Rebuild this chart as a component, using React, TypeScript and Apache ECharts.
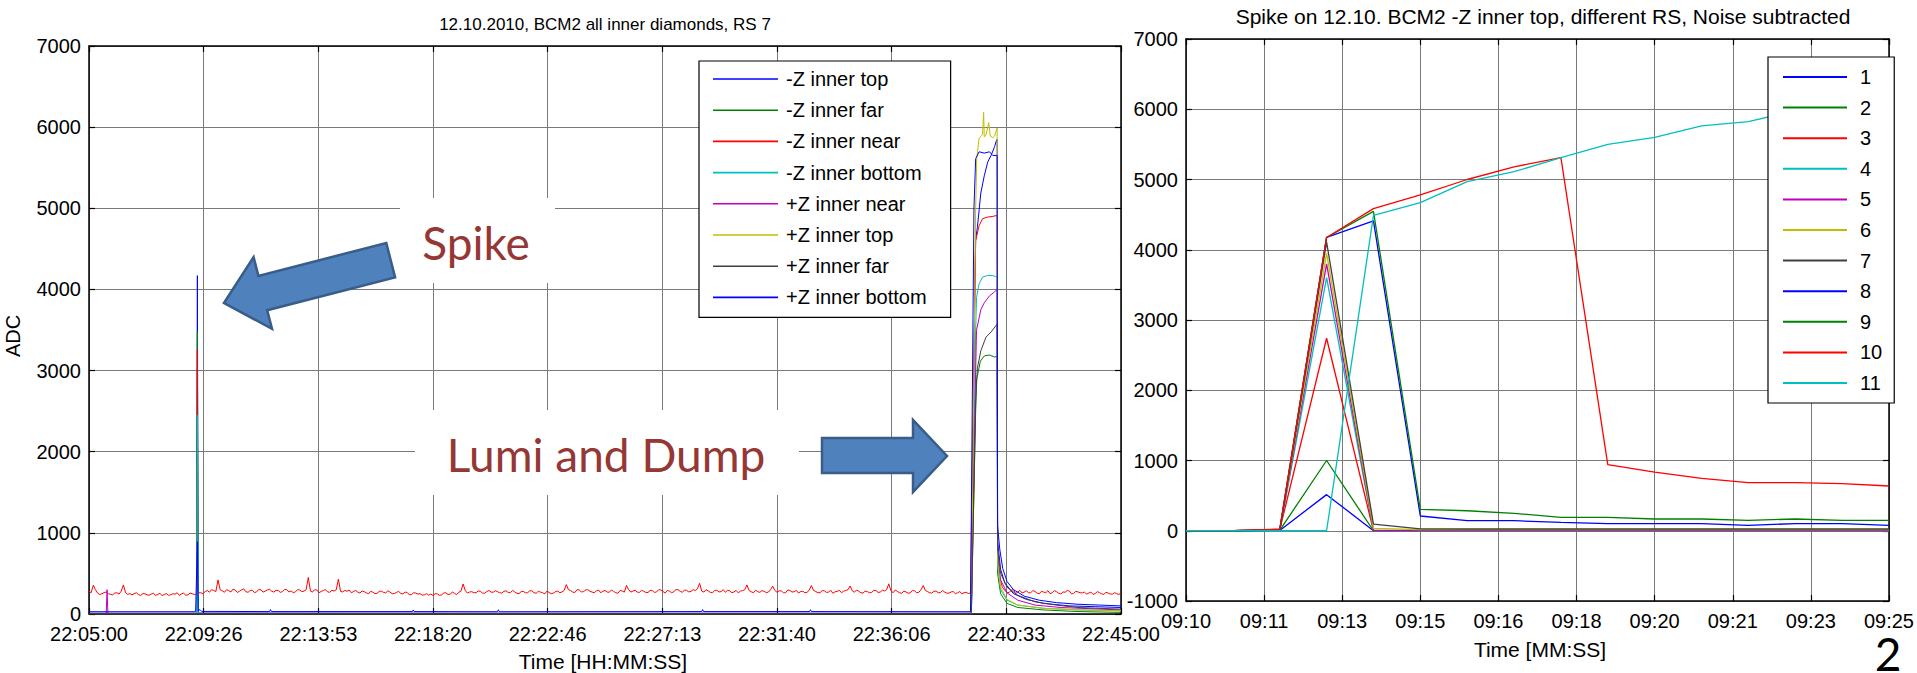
import React, { useEffect, useRef } from 'react';
import * as echarts from 'echarts';

// ---------------- texts ----------------
const LEFT_TITLE = '12.10.2010, BCM2 all inner diamonds, RS 7';
const RIGHT_TITLE = 'Spike on 12.10. BCM2 -Z inner top, different RS, Noise subtracted';
const LEFT_X_NAME = 'Time [HH:MM:SS]';
const RIGHT_X_NAME = 'Time [MM:SS]';
const LEFT_Y_NAME = 'ADC';
const PAGE_NO = '2';
const NOTE_SPIKE = 'Spike';
const NOTE_DUMP = 'Lumi and Dump';

// ---------------- axes ----------------
const LEFT_X_LABELS = ['22:05:00', '22:09:26', '22:13:53', '22:18:20', '22:22:46', '22:27:13', '22:31:40', '22:36:06', '22:40:33', '22:45:00'];
const LEFT_X_MAX = 2400; // seconds after 22:05:00
const LEFT_Y_MIN = 0;
const LEFT_Y_MAX = 7000;
const RIGHT_X_LABELS = ['09:10', '09:11', '09:13', '09:15', '09:16', '09:18', '09:20', '09:21', '09:23', '09:25'];
const RIGHT_X_MAX = 15; // seconds after 09:10
const RIGHT_Y_MIN = -1000;
const RIGHT_Y_MAX = 7000;
const Y_STEP = 1000;

// ---------------- left chart data: [seconds after 22:05:00, ADC] ----------------
const LEFT_NAMES = ['-Z inner top', '-Z inner far', '-Z inner near', '-Z inner bottom', '+Z inner near', '+Z inner top', '+Z inner far', '+Z inner bottom'];

const Z_TOP = [[0, 10], [250, 10], [252, 4170], [254, 12], [1000, 10], [2052, 10], [2060, 4000], [2062, 4617], [2066, 4765], [2074, 5188], [2082, 5400], [2090, 5569], [2098, 5653], [2106, 5759], [2110, 5831], [2112, 5850], [2113, 900], [2120, 550], [2130, 380], [2150, 250], [2180, 180], [2220, 130], [2280, 100], [2340, 90], [2400, 80]];
const Z_FAR = [[0, 5], [250, 5], [252, 3480], [254, 5], [2052, 5], [2062, 2500], [2064, 2884], [2073, 3116], [2082, 3180], [2094, 3192], [2106, 3167], [2112, 3175], [2113, 500], [2120, 250], [2135, 130], [2160, 80], [2220, 50], [2300, 30], [2400, 20]];
// -Z inner near: noisy baseline read every 5 s (even and odd samples), the pulse, then the tail
const Z_NEAR_BASE_T0 = 0;
const Z_NEAR_BASE_DT = 10;
const Z_NEAR_BASE = [
  280, 355, 258, 250, 272, 242, 258, 246, 358, 240,
  236, 262, 228, 248, 232, 255, 240, 226, 252, 238,
  244, 230, 256, 236, 250, 246, 262, 275, 268, 290,
  420, 285, 300, 272, 295, 280, 310, 268, 292, 276,
  298, 282, 305, 270, 290, 278, 300, 284, 272, 296,
  282, 450, 270, 295, 278, 300, 268, 282, 430, 272,
  280, 262, 290, 258, 275, 248, 268, 255, 282, 260,
  270, 252, 278, 246, 265, 240, 258, 250, 236, 232,
  228, 248, 236, 262, 245, 255, 268, 370, 258, 276,
  262, 280, 256, 290, 268, 275, 258, 285, 264, 272,
  250, 278, 262, 285, 256, 270, 248, 266, 258, 282,
  272, 362, 288, 265, 296, 276, 300, 270, 285, 262,
  290, 268, 278, 256, 284, 352, 270, 292, 266, 280,
  265, 288, 272, 296, 258, 282, 275, 300, 268, 290,
  278, 290, 378, 270, 286, 262, 292, 276, 268, 285,
  272, 260, 288, 358, 274, 292, 266, 280, 270, 342,
  268, 284, 262, 290, 275, 258, 280, 266, 350, 278,
  262, 286, 270, 255, 278, 262, 290, 345, 268, 280,
  258, 276, 265, 290, 270, 284, 372, 262, 278, 255,
  272, 260, 285, 268, 350, 276, 258, 282, 264, 270,
  258, 276, 262, 250, 268, 260,
];
const Z_NEAR_MID_T0 = 5;
const Z_NEAR_MID_DT = 10;
const Z_NEAR_MID = [
  262, 300, 240, 262, 250, 236, 262, 282, 262, 252,
  250, 240, 252, 236, 246, 230, 256, 240, 230, 250,
  262, 248, 232, 258, 240, 262, 250, 290, 300, 276,
  300, 268, 286, 306, 266, 300, 274, 290, 262, 300,
  270, 296, 280, 292, 266, 302, 272, 262, 300, 276,
  300, 282, 300, 262, 290, 272, 292, 300, 278, 290,
  296, 276, 270, 284, 262, 280, 252, 278, 266, 286,
  250, 266, 255, 270, 236, 262, 246, 232, 250, 246,
  250, 230, 258, 240, 270, 238, 282, 290, 270, 262,
  284, 258, 276, 270, 286, 262, 280, 264, 290, 256,
  276, 262, 286, 262, 280, 262, 282, 250, 276, 262,
  290, 300, 270, 300, 272, 296, 280, 262, 296, 280,
  270, 296, 262, 290, 270, 300, 282, 270, 292, 266,
  290, 266, 300, 276, 290, 262, 300, 278, 296, 272,
  300, 312, 282, 300, 266, 290, 272, 300, 292, 262,
  290, 282, 300, 290, 262, 276, 288, 262, 300, 290,
  286, 262, 296, 270, 290, 276, 262, 296, 290, 262,
  288, 266, 292, 274, 292, 282, 300, 286, 296, 262,
  282, 262, 290, 266, 292, 300, 286, 296, 262, 282,
  256, 290, 262, 300, 290, 262, 280, 262, 290, 256,
  272, 250, 276, 262, 252,
];
const Z_NEAR_EVENTS = [[251, 265], [252, 3255], [253, 268], [2062, 4600], [2070, 4786], [2078, 4871], [2090, 4892], [2102, 4900], [2112, 4913], [2113, 700], [2118, 450], [2124, 330]];
const Z_NEAR_TAIL_T0 = 2130;
const Z_NEAR_TAIL_DT = 10;
const Z_NEAR_TAIL = [290, 265, 300, 272, 258, 285, 262, 278, 250, 270, 288, 262, 275, 248, 268, 282, 255, 272, 260, 246, 270, 252, 262, 240, 258, 244, 250, 262];
const Z_NEAR_TAIL_MID_T0 = 2135;
const Z_NEAR_TAIL_MID = [262, 296, 250, 290, 270, 262, 288, 256, 280, 262, 250, 288, 256, 272, 290, 248, 280, 262, 270, 258, 242, 276, 250, 268, 246, 262, 240];
const Z_BOTTOM = [[0, 6], [250, 6], [252, 2450], [254, 6], [2052, 6], [2062, 3500], [2064, 3899], [2070, 4068], [2078, 4152], [2090, 4173], [2102, 4170], [2108, 4160], [2112, 4152], [2113, 600], [2120, 300], [2135, 170], [2160, 110], [2220, 70], [2300, 50], [2400, 40]];
const P_NEAR = [[0, 4], [40, 4], [42, 300], [44, 4], [2052, 4], [2062, 3000], [2064, 3497], [2074, 3750], [2082, 3835], [2094, 3920], [2106, 3970], [2112, 4004], [2113, 700], [2120, 420], [2135, 260], [2160, 170], [2200, 110], [2260, 80], [2400, 50]];
const P_TOP = [[0, 3], [2052, 3], [2062, 5000], [2064.5, 5611], [2070, 5865], [2078, 5907], [2080.5, 6182], [2082, 5880], [2086, 5900], [2092.4, 6055], [2096, 5890], [2102, 5870], [2106, 5890], [2112, 5990], [2113, 650], [2120, 330], [2135, 180], [2160, 110], [2220, 70], [2300, 50], [2400, 40]];
const P_FAR = [[0, 6], [2052, 6], [2062, 2600], [2066, 3032], [2074, 3243], [2086, 3412], [2098, 3476], [2110, 3560], [2112, 3570], [2113, 800], [2120, 500], [2135, 330], [2160, 230], [2200, 150], [2250, 110], [2300, 80], [2400, 60]];
const P_BOTTOM = [[0, 28], [248, 28], [252, 890], [254, 35], [258, 55], [262, 32], [420, 30], [422, 55], [424, 30], [752, 30], [754, 50], [756, 30], [950, 28], [952, 52], [954, 28], [1425, 30], [1427, 55], [1429, 30], [1676, 30], [1678, 52], [1680, 30], [2050, 28], [2058, 5000], [2062, 5611], [2070, 5696], [2082, 5680], [2094, 5696], [2102, 5650], [2112, 5653], [2113, 1090], [2118, 800], [2125, 560], [2135, 400], [2150, 300], [2175, 220], [2210, 170], [2250, 140], [2300, 120], [2350, 110], [2400, 100]];

// ---------------- right chart data: RS 1..11, one value per second ----------------
const RIGHT_NAMES = ['1', '2', '3', '4', '5', '6', '7', '8', '9', '10', '11'];
const RIGHT_SECONDS = [0, 1, 2, 3, 4, 5, 6, 7, 8, 9, 10, 11, 12, 13, 14, 15];
const RS1 = [0, 0, 5, 514, 0, 0, 0, 0, 0, 0, 0, 0, 0, 0, 0, 0];
const RS2 = [0, 0, 5, 1000, 0, 0, 0, 0, 0, 0, 0, 0, 0, 0, 0, 0];
const RS3 = [0, 0, 15, 2740, 0, 0, 0, 0, 0, 0, 0, 0, 0, 0, 0, 0];
const RS4 = [0, 0, 5, 3604, 0, 0, 0, 0, 0, 0, 0, 0, 0, 0, 0, 0];
const RS5 = [0, 0, 5, 3800, 5, 5, 5, 5, 5, 5, 5, 5, 5, 5, 5, 5];
const RS6 = [0, 0, 5, 3950, 33, 15, 15, 15, 15, 15, 15, 15, 15, 15, 15, 15];
const RS7 = [0, 0, 5, 4110, 94, 28, 25, 25, 25, 25, 25, 25, 25, 25, 25, 25];
const RS8 = [0, 0, 10, 4175, 4410, 210, 143, 143, 120, 101, 101, 101, 77, 101, 101, 77];
const RS9 = [0, 0, 10, 4175, 4547, 305, 285, 248, 191, 191, 167, 167, 148, 167, 148, 148];
const RS10 = [0, 0, 25, 4175, 4585, 4780, 5000, 5180, 5310, 940, 835, 745, 685, 685, 670, 637];
const RS11 = [0, 0, 0, 0, 4490, 4670, 4969, 5111, 5310, 5500, 5600, 5762, 5823, 5980, 6120, 6230];

// ---------------- styles ----------------
const BLUE = '#0000FF';
const GREEN = '#008000';
const RED = '#FF0000';
const CYAN = '#00BFBF';
const MAGENTA = '#BF00BF';
const YELLOW = '#BFBF00';
const GRAY = '#404040';
const LEFT_COLORS = [BLUE, GREEN, RED, CYAN, MAGENTA, YELLOW, GRAY, BLUE];
const RIGHT_COLORS = [BLUE, GREEN, RED, CYAN, MAGENTA, YELLOW, GRAY, BLUE, GREEN, RED, CYAN];
const FONT = 'Liberation Sans, Arial, sans-serif';
const NOTE_FONT = 'Lato, Open Sans, sans-serif';
const NOTE_RED = '#953735';
const ARROW_FILL = '#4F81BD';
const ARROW_STROKE = '#385D8A';
const GRID_COLOR = '#7a7a7a';

function buildNear(): number[][] {
  const seq = (vals: number[], t0: number, dt: number) => vals.map((v, i) => [t0 + i * dt, v]);
  return [
    ...seq(Z_NEAR_BASE, Z_NEAR_BASE_T0, Z_NEAR_BASE_DT),
    ...seq(Z_NEAR_MID, Z_NEAR_MID_T0, Z_NEAR_MID_DT),
    ...Z_NEAR_EVENTS,
    ...seq(Z_NEAR_TAIL, Z_NEAR_TAIL_T0, Z_NEAR_TAIL_DT),
    ...seq(Z_NEAR_TAIL_MID, Z_NEAR_TAIL_MID_T0, Z_NEAR_TAIL_DT),
  ].sort((a, b) => a[0] - b[0]);
}

export default function App() {
  const ref = useRef<HTMLDivElement>(null);

  useEffect(() => {
    if (!ref.current) return;
    const chart = echarts.init(ref.current, undefined, { renderer: 'svg' });

    const leftStep = LEFT_X_MAX / (LEFT_X_LABELS.length - 1);
    const rightStep = RIGHT_X_MAX / (RIGHT_X_LABELS.length - 1);
    const labelStyle = { fontFamily: FONT, fontSize: 20, color: '#000' };
    const axisLine = { show: true, onZero: false, lineStyle: { color: '#000', width: 1.5 } };
    const tick = { show: true, inside: true, length: 6, lineStyle: { color: '#000', width: 1.2 } };
    const split = { show: true, lineStyle: { color: GRID_COLOR, width: 1 } };

    const xAxisBase = (grid: number, max: number, step: number, labels: string[], pos: string, main: boolean) => ({
      type: 'value', gridIndex: grid, min: 0, max, interval: step, position: pos,
      axisLine, axisTick: tick, splitLine: main ? split : { show: false },
      axisLabel: main
        ? { ...labelStyle, margin: 10, formatter: (v: number) => labels[Math.round(v / step)] ?? '' }
        : { show: false },
    });
    const yAxisBase = (grid: number, min: number, max: number, pos: string, main: boolean) => ({
      type: 'value', gridIndex: grid, min, max, interval: Y_STEP, position: pos,
      axisLine, axisTick: tick, splitLine: main ? split : { show: false },
      axisLabel: main ? { ...labelStyle, margin: 8, formatter: (v: number) => String(v) } : { show: false },
    });

    const line = (name: string, data: number[][], color: string, axis: number, width: number, z: number) => ({
      type: 'line', name, data, xAxisIndex: axis, yAxisIndex: axis, symbol: 'none', showSymbol: false,
      lineStyle: { color, width }, itemStyle: { color }, silent: true, z,
    });

    const leftData = [Z_TOP, Z_FAR, buildNear(), Z_BOTTOM, P_NEAR, P_TOP, P_FAR, P_BOTTOM];
    const rightData = [RS1, RS2, RS3, RS4, RS5, RS6, RS7, RS8, RS9, RS10, RS11];

    const series: any[] = [];
    leftData.forEach((d, i) => series.push(line(LEFT_NAMES[i], d, LEFT_COLORS[i], 0, 1, 2 + i * 0.01)));
    rightData.forEach((vals, i) =>
      series.push(line(RIGHT_NAMES[i], vals.map((v, k) => [RIGHT_SECONDS[k], v]), RIGHT_COLORS[i], 2, 1.3, 2 + i * 0.01)));

    const text = (t: string, x: number, y: number, size: number, extra: any = {}) => ({
      type: 'text', x, y, z: 100, silent: true,
      style: { text: t, fill: '#000', fontFamily: FONT, fontSize: size, align: 'center', verticalAlign: 'middle', ...extra },
    });

    const option: any = {
      animation: false,
      backgroundColor: '#fff',
      grid: [
        { left: 89, top: 46, width: 1032, height: 568 },
        { left: 1186, top: 39, width: 713, height: 562 },
      ],
      xAxis: [
        xAxisBase(0, LEFT_X_MAX, leftStep, LEFT_X_LABELS, 'bottom', true),
        xAxisBase(0, LEFT_X_MAX, leftStep, LEFT_X_LABELS, 'top', false),
        xAxisBase(1, RIGHT_X_MAX, rightStep, RIGHT_X_LABELS, 'bottom', true),
        xAxisBase(1, RIGHT_X_MAX, rightStep, RIGHT_X_LABELS, 'top', false),
      ],
      yAxis: [
        yAxisBase(0, LEFT_Y_MIN, LEFT_Y_MAX, 'left', true),
        yAxisBase(0, LEFT_Y_MIN, LEFT_Y_MAX, 'right', false),
        yAxisBase(1, RIGHT_Y_MIN, RIGHT_Y_MAX, 'left', true),
        yAxisBase(1, RIGHT_Y_MIN, RIGHT_Y_MAX, 'right', false),
      ],
      legend: [
        {
          data: LEFT_NAMES, orient: 'vertical', left: 699, top: 61, icon: 'rect', itemWidth: 65, itemHeight: 1.6, itemGap: 11.2,
          padding: [8, 24, 10, 14], borderColor: '#000', borderWidth: 1.2, backgroundColor: '#fff',
          selectedMode: false, textStyle: { ...labelStyle, padding: [0, 0, 0, 3] }, z: 20,
        },
        {
          data: RIGHT_NAMES, orient: 'vertical', left: 1768, top: 57, icon: 'rect', itemWidth: 64, itemHeight: 2, itemGap: 10.6,
          padding: [10, 12, 10, 15], borderColor: '#000', borderWidth: 1.2, backgroundColor: '#fff',
          selectedMode: false, textStyle: { ...labelStyle, padding: [0, 0, 0, 8] }, z: 20,
        },
      ],
      series,
      graphic: [
        { type: 'rect', z: 90, silent: true, shape: { x: 400, y: 198, width: 155, height: 85 }, style: { fill: '#fff' } },
        { type: 'rect', z: 90, silent: true, shape: { x: 415, y: 410, width: 384, height: 85 }, style: { fill: '#fff' } },
        text(NOTE_SPIKE, 476, 242, 46, { fill: NOTE_RED, fontFamily: NOTE_FONT }),
        text(NOTE_DUMP, 606, 454, 46, { fill: NOTE_RED, fontFamily: NOTE_FONT }),
        {
          type: 'polygon', z: 95, silent: true,
          shape: { points: [[224, 303], [253.6, 257.1], [258.4, 275.9], [386.3, 243.0], [395.1, 277.4], [267.2, 310.2], [272.0, 328.9]] },
          style: { fill: ARROW_FILL, stroke: ARROW_STROKE, lineWidth: 2.5 },
        },
        {
          type: 'polygon', z: 95, silent: true,
          shape: { points: [[822, 438], [913, 438], [913, 420], [947, 456], [913, 492], [913, 473], [822, 473]] },
          style: { fill: ARROW_FILL, stroke: ARROW_STROKE, lineWidth: 2.5 },
        },
        text(LEFT_TITLE, 605, 24, 17),
        text(RIGHT_TITLE, 1543, 16, 21),
        text(LEFT_X_NAME, 603, 661, 21),
        text(RIGHT_X_NAME, 1540, 649, 21),
        { ...text(LEFT_Y_NAME, 13, 336, 20), rotation: Math.PI / 2 },
        text(PAGE_NO, 1888, 653, 46, { fontFamily: NOTE_FONT }),
      ],
    };

    chart.setOption(option);
    return () => chart.dispose();
  }, []);

  return <div ref={ref} style={{ position: 'absolute', left: 0, top: 0, width: 1917, height: 673, background: '#fff' }} />;
}
